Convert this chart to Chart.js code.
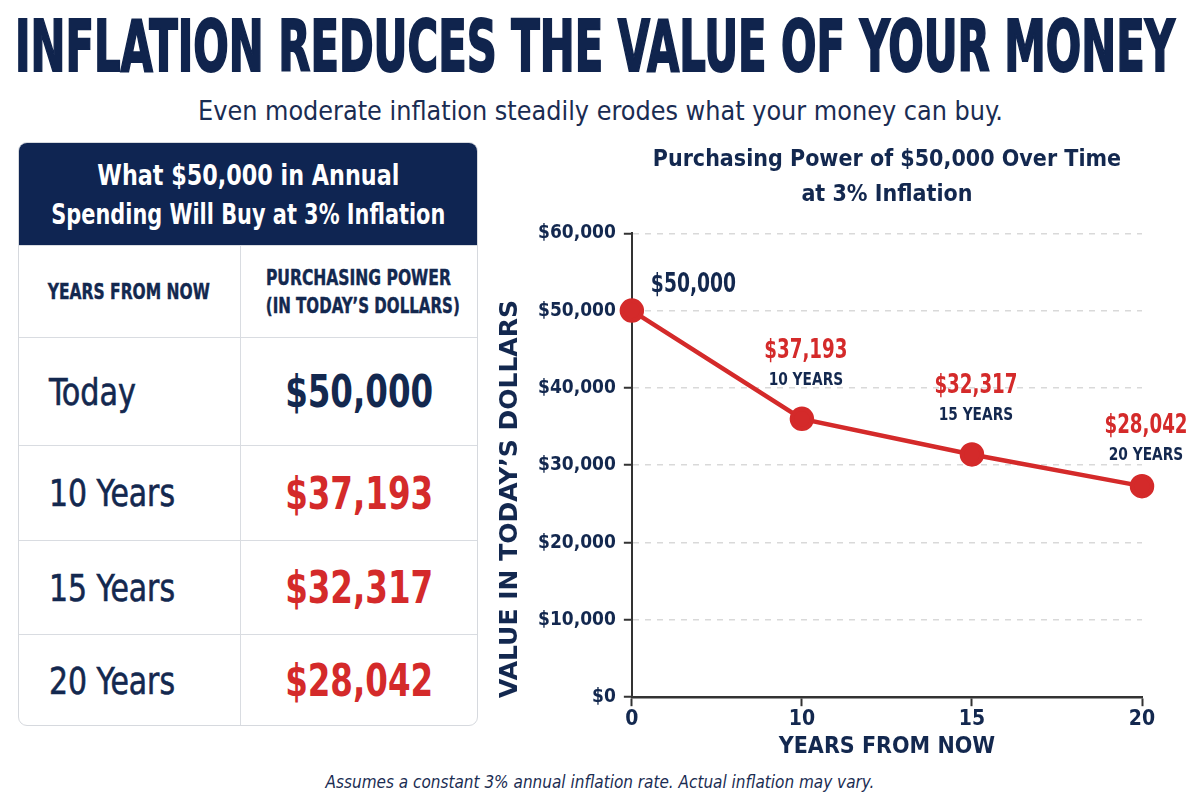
<!DOCTYPE html>
<html>
<head>
<meta charset="utf-8">
<script src="https://cdn.jsdelivr.net/npm/chart.js"></script>
<style>
  body { margin: 0; width: 1200px; height: 800px; background: #fff; overflow: hidden;
         font-family: "DejaVu Sans Condensed", "DejaVu Sans", sans-serif; color: #13284f; }
  .fit { display: inline-block; white-space: nowrap; transform-origin: center center; }
  .title { position: absolute; left: 15px; top: 10px; width: 1160px; white-space: nowrap;
           font-size: 72px; font-weight: bold; line-height: 72px; color: #10244d; -webkit-text-stroke: 2px #10244d; }
  .title .fit, .sub .fit, .l .fit { transform-origin: left center; }
  .sub { position: absolute; left: 198px; top: 95px; font-size: 27px; white-space: nowrap; color: #1a2c52; }
  .card { position: absolute; left: 18px; top: 142px; width: 458px; height: 582px; border: 1.5px solid #d6d9de;
          border-radius: 9px; overflow: hidden; background: #fff; }
  .head { height: 102px; background: #0f2552; color: #fff; font-weight: bold; font-size: 25px; text-align: center;
          padding-top: 13px; box-sizing: border-box; }
  .head div { height: 39px; line-height: 39px; }
  table { border-collapse: collapse; width: 100%; table-layout: fixed; }
  td { border: 1.5px solid #d9dce1; border-left: none; padding: 0; }
  tr td:last-child { border-right: none; }
  tr:last-child td { border-bottom: none; }
  .colh td { height: 91px; font-weight: bold; font-size: 21px; text-align: center; line-height: 28px; -webkit-text-stroke: 0.4px #13284f; }
  .row td { font-size: 38px; }
  .row td.l { padding-left: 30px; -webkit-text-stroke: 0.6px #13284f; }
  .row td.v { text-align: center; font-weight: bold; font-size: 44px; }
  .red { color: #d42a2a; }
  .foot { position: absolute; left: 0; width: 1200px; top: 772px; text-align: center; font-style: italic; font-size: 17px; color: #1a2c52; }
  #wrap { position: absolute; left: 478px; top: 140px; width: 722px; height: 625px; }
</style>
</head>
<body>
<div class="title"><span class="fit" data-w="1160">INFLATION REDUCES THE VALUE OF YOUR MONEY</span></div>
<div class="sub"><span class="fit" data-w="805">Even moderate inflation steadily erodes what your money can buy.</span></div>

<div class="card">
  <div class="head">
    <div><span class="fit" data-w="302">What $50,000 in Annual</span></div>
    <div><span class="fit" data-w="394">Spending Will Buy at 3% Inflation</span></div>
  </div>
  <table id="tbl">
    <colgroup><col style="width:221px"><col></colgroup>
    <tr class="colh">
      <td><span class="fit" data-w="162">YEARS FROM NOW</span></td>
      <td><span class="fit" data-w="185">PURCHASING POWER</span><br><span class="fit" data-w="194">(IN TODAY’S DOLLARS)</span></td>
    </tr>
  </table>
</div>

<div id="wrap"><canvas id="myChart"></canvas></div>

<div class="foot">Assumes a constant 3% annual inflation rate. Actual inflation may vary.</div>

<script>
// table rows
let rowLabels = ["Today", "10 Years", "15 Years", "20 Years"];
let rowValues = ["$50,000", "$37,193", "$32,317", "$28,042"];
let rowHeights = [108, 95, 94, 92];

// chart data
let years = ["0", "10", "15", "20"];
let plotted = [50000, 36000, 31400, 27300];
let valueLabels = ["$50,000", "$37,193", "$32,317", "$28,042"];
let yearLabels = ["", "10 YEARS", "15 YEARS", "20 YEARS"];

const NAVY = "#13284f";
const RED = "#d42a2a";
const FONT = '"DejaVu Sans Condensed", "DejaVu Sans", sans-serif';

let tbl = document.getElementById("tbl");
for (let i = 0; i < rowLabels.length; i++) {
    let tr = document.createElement("tr");
    tr.className = "row";
    tr.style.height = rowHeights[i] + "px";
    let cls = i == 0 ? "v" : "v red";
    let lw = i == 0 ? 87 : 126;
    tr.innerHTML = `<td class="l"><span class="fit" data-w="${lw}">${rowLabels[i]}</span></td>` +
                   `<td class="${cls}"><span class="fit" data-w="148">${rowValues[i]}</span></td>`;
    tbl.appendChild(tr);
}

document.querySelectorAll(".fit").forEach(el => {
    let cur = el.getBoundingClientRect().width;
    let extra = el.closest(".head") ? " scaleY(1.12)" : "";
    el.style.transform = `scaleX(${el.dataset.w / cur})` + extra;
});

// draw text squeezed horizontally, the reference uses a condensed face
function squeezeText(ctx, text, x, y, sx) {
    ctx.save();
    ctx.translate(x, y);
    ctx.scale(sx, 1);
    ctx.fillText(text, 0, 0);
    ctx.restore();
}

const pointLabels = {
    id: "pointLabels",
    afterDatasetsDraw(chart) {
        let ctx = chart.ctx;
        let pts = chart.getDatasetMeta(0).data;
        ctx.save();
        ctx.textBaseline = "middle";
        pts.forEach((p, i) => {
            ctx.font = `bold 26px ${FONT}`;
            if (i == 0) {
                ctx.fillStyle = NAVY;
                ctx.textAlign = "left";
                squeezeText(ctx, valueLabels[i], p.x + 19, p.y - 25, 0.8);
                return;
            }
            ctx.textAlign = "center";
            let up = i == 3 ? 60 : 68;
            ctx.fillStyle = RED;
            squeezeText(ctx, valueLabels[i], p.x + 4, p.y - up, 0.78);
            ctx.font = `bold 18px ${FONT}`;
            ctx.fillStyle = NAVY;
            squeezeText(ctx, yearLabels[i], p.x + 4, p.y - up + 29, 0.85);
        });
        ctx.restore();
    },
    afterDraw(chart) {
        // y axis title, centred a bit lower than the plot area like the reference
        let ctx = chart.ctx;
        ctx.save();
        ctx.translate(32, 359);
        ctx.rotate(-Math.PI / 2);
        ctx.textAlign = "center";
        ctx.textBaseline = "middle";
        ctx.font = 'bold 25px "DejaVu Sans", sans-serif';
        ctx.fillStyle = NAVY;
        ctx.fillText("VALUE IN TODAY’S DOLLARS", 0, 0);
        ctx.restore();
    }
};

let chart = new Chart(document.getElementById("myChart"), {
    type: "line",
    data: {
        labels: years,
        datasets: [{
            data: plotted,
            borderColor: RED,
            backgroundColor: RED,
            borderWidth: 4.5,
            pointRadius: 10,
            pointHoverRadius: 10,
            tension: 0
        }]
    },
    plugins: [pointLabels],
    options: {
        responsive: true,
        maintainAspectRatio: false,
        animation: false,
        layout: { padding: { left: 52, right: 58, top: 0, bottom: 0 } },
        plugins: {
            legend: { display: false },
            tooltip: { enabled: false },
            title: {
                display: true,
                fullSize: false,
                text: ["Purchasing Power of $50,000 Over Time", "at 3% Inflation"],
                color: NAVY,
                font: { family: FONT, size: 23, weight: "bold", lineHeight: 1.55 },
                padding: { top: 2, bottom: 20 }
            }
        },
        scales: {
            x: {
                offset: false,
                grid: { display: true, drawOnChartArea: false, drawTicks: true, tickLength: 9, tickColor: "#333", tickWidth: 2 },
                border: { display: true, color: "#333", width: 2.5 },
                ticks: { color: NAVY, font: { family: FONT, size: 21, weight: "bold" }, padding: 1 },
                title: { display: true, text: "YEARS FROM NOW", color: NAVY, font: { family: FONT, size: 23, weight: "bold" }, padding: { top: 0 } }
            },
            y: {
                min: 0,
                max: 60000,
                ticks: {
                    stepSize: 10000,
                    color: NAVY,
                    padding: 8,
                    font: { family: FONT, size: 19, weight: "bold" },
                    callback: v => "$" + v.toLocaleString("en-US")
                },
                grid: { color: "#d9d9d9", lineWidth: 1.5, drawTicks: true, tickLength: 8, tickColor: "#333", tickWidth: 2, tickBorderDash: [] },
                border: { display: true, color: "#333", width: 2, dash: [6, 6] }
            }
        }
    }
});
</script>
</body>
</html>
